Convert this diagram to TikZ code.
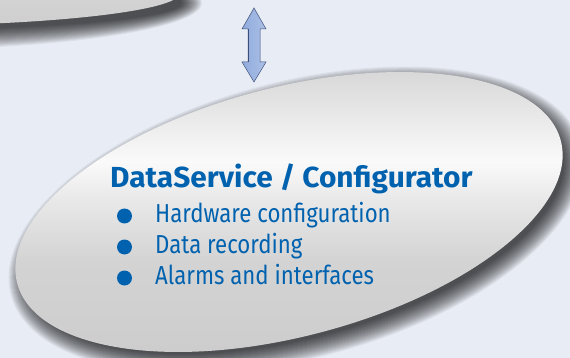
\documentclass[tikz,border=0pt]{standalone}
\usepackage{fontspec}
\setmainfont{Fira Sans}
\newfontfamily\titlefont[FakeStretch=1.03]{Fira Sans Bold}
\newfontfamily\itemfont[FakeStretch=0.855]{Fira Sans}
\definecolor{bg}{HTML}{E8ECF4}
\definecolor{txtblue}{HTML}{0062AE}
\definecolor{topgray}{HTML}{CFCFCF}
\definecolor{gA}{HTML}{CDCDCE}
\definecolor{gB}{HTML}{D3D3D4}
\definecolor{gC}{HTML}{E8E8E9}
\definecolor{gD}{HTML}{FAFAFA}
\definecolor{gE}{HTML}{D8D8D8}
\definecolor{arrowL}{HTML}{90ABDC}
\definecolor{arrowM}{HTML}{7596D2}
\definecolor{arrowR}{HTML}{ABC0E7}
\definecolor{arrowline}{HTML}{3D4E78}
\pgfdeclareverticalshading{ellshade}{100bp}{color(0bp)=(gA); color(25bp)=(gA); color(41bp)=(gB); color(52bp)=(gC); color(59bp)=(gD); color(75bp)=(gE); color(100bp)=(gE)}
\tikzset{
  shadowlayer/.style={fill=black, opacity=0.047},
  itemtext/.style={anchor=base west, inner sep=0pt, text=txtblue, font=\itemfont\fontsize{26}{30}\selectfont},
  titletext/.style={anchor=base west, inner sep=0pt, text=txtblue, font=\titlefont\fontsize{29}{33}\selectfont},
  bulletdot/.style={circle, fill=txtblue, inner sep=0pt, minimum size=15pt},
  blockarrow/.style={left color=arrowL, middle color=arrowM, right color=arrowR, draw=arrowline, line width=0.5pt, line join=miter}
}
\begin{document}
\begin{tikzpicture}[x=1pt,y=-1pt]
\useasboundingbox (0,0) rectangle (570,358);
\fill[bg] (0,0) rectangle (570,358);
\begin{scope}
\clip (0,0) rectangle (570,358);
% top ellipse shadow
\foreach \k in {-6,...,14} {
  \fill[shadowlayer] (-112,3) ellipse [x radius={300+\k}, y radius={33+\k}];
}
\shade[top color=topgray!80!white, bottom color=topgray] (-120,-7) ellipse [x radius=300, y radius=33];
% main ellipse shadow
\foreach \k in {-6,...,14} {
  \fill[shadowlayer, rotate around={14.7:(296,220)}] (296,220) ellipse [x radius={281+\k}, y radius={124.5+\k}];
}
\begin{scope}
\clip[rotate around={14.7:(289,212)}] (289,212) ellipse [x radius=281, y radius=124.5];
\shade[shading=ellshade] (0,72) rectangle (570,352);
\end{scope}
\end{scope}
% double arrow
\coordinate (atop) at (254,8);
\coordinate (abot) at (254,82);
\path[blockarrow] (atop) -- (266,29) -- (260,29) -- (260,62) -- (266,62) -- (abot) -- (242,62) -- (248,62) -- (248,29) -- (242,29) -- cycle;
\draw[arrowline, line width=1.2pt] (248.4,29) -- (248.4,62);
% text
\node[titletext] (title) at (110,188) {DataService / Configurator};
\node[bulletdot] (b1) at (124.5,216) {};
\node[bulletdot] (b2) at (124.5,247) {};
\node[bulletdot] (b3) at (124.5,278) {};
\node[itemtext] (i1) at (155,222.5) {Hardware configuration};
\node[itemtext] (i2) at (155,253) {Data recording};
\node[itemtext] (i3) at (155,284) {Alarms and interfaces};
\end{tikzpicture}
\end{document}
